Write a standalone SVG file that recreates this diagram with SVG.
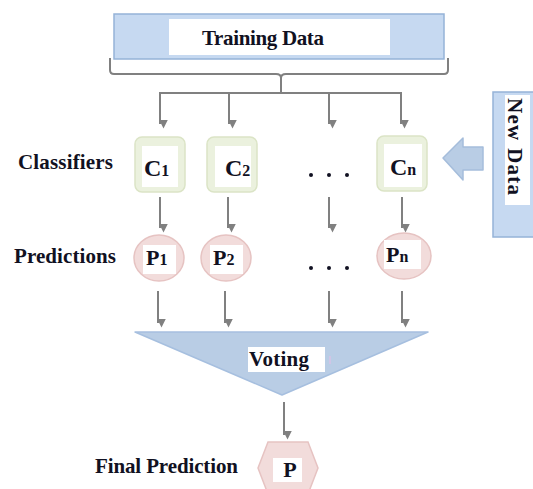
<svg xmlns="http://www.w3.org/2000/svg" width="533" height="489" viewBox="0 0 533 489">
<defs>
<style>
.t{font-family:"Liberation Serif","Times New Roman",serif;font-weight:bold;fill:#111122;font-size:21px}
.blue{fill:#c6d9f1;stroke:#95b3d7;stroke-width:1.5}
.cbox{fill:#ebf1de;stroke:#dbe4c6;stroke-width:1.5}
.pc{fill:#f2dcdb;stroke:#e6c3c2;stroke-width:1.5}
.w{fill:#ffffff}
.con{fill:none;stroke:#808080;stroke-width:2}
.ar{fill:none;stroke:#808080;stroke-width:2;marker-end:url(#ah)}
.big{font-size:24px}
.sub{font-size:16px}
</style>
<marker id="ah" markerWidth="9" markerHeight="9" refX="4.5" refY="8" orient="auto-start-reverse" markerUnits="userSpaceOnUse" viewBox="0 0 9 9">
<path d="M0,0 L9,0 L4.5,9 Z" fill="#808080" transform="rotate(-90 4.5 4.5)"/>
</marker>
</defs>
<rect width="533" height="489" fill="#ffffff"/>

<g id="training-data">
<rect class="blue" x="114" y="14" width="330" height="45"/>
<rect class="w" x="169" y="19" width="221" height="36"/>
<text class="t" x="263" y="45" text-anchor="middle" textLength="122">Training Data</text>
</g>

<g id="new-data">
<rect class="blue" x="493" y="92" width="50" height="145"/>
<rect class="w" x="505" y="95" width="25" height="110"/>
<text class="t" transform="translate(508,98) rotate(90)" x="0" y="0" textLength="97">New Data</text>
</g>

<g id="new-data-arrow">
<polygon points="443,158 463,138 463,147 483,147 483,170 463,170 463,180" fill="#b9cde5" stroke="#a5bddb" stroke-width="1.5" stroke-linejoin="round"/>
</g>

<g id="labels">
<text class="t" x="18" y="169" textLength="95">Classifiers</text>
<text class="t" x="14" y="263" textLength="102">Predictions</text>
<text class="t" x="95" y="473" textLength="143">Final Prediction</text>
</g>

<g id="connectors">
<path class="con" d="M110,58 V70 Q110,74 114,74 H276 Q281,74 281,78 Q281,74 286,74 H444 Q448,74 448,70 V58"/>
<path class="con" d="M281,76 V93 M159,93 H402"/>
<path class="ar" d="M160,92 V124"/>
<path class="ar" d="M229,93 V124"/>
<path class="ar" d="M329,93 V124"/>
<path class="ar" d="M401,92 V124"/>
<path class="ar" d="M160,197 V228"/>
<path class="ar" d="M228,197 V228"/>
<path class="ar" d="M329,197 V228"/>
<path class="ar" d="M402,197 V228"/>
<path class="ar" d="M158,291 V323"/>
<path class="ar" d="M225,291 V323"/>
<path class="ar" d="M329,291 V323"/>
<path class="ar" d="M402,291 V323"/>
<path class="ar" d="M284,402 V435"/>
</g>

<g id="c1">
<rect class="cbox" x="135" y="137" width="50" height="55" rx="7"/>
<rect class="w" x="142" y="146" width="36" height="41"/>
<text class="t" x="144" y="176"><tspan class="big">C</tspan><tspan class="sub">1</tspan></text>
</g>
<g id="c2">
<rect class="cbox" x="207" y="137" width="50" height="55" rx="7"/>
<rect class="w" x="215" y="146" width="36" height="41"/>
<text class="t" x="225" y="176"><tspan class="big">C</tspan><tspan class="sub">2</tspan></text>
</g>
<g id="c-dots">
<circle cx="311" cy="175" r="2" fill="#111122"/>
<circle cx="329" cy="175" r="2" fill="#111122"/>
<circle cx="347" cy="175" r="2" fill="#111122"/>
</g>
<g id="cn">
<rect class="cbox" x="377" y="136" width="50" height="55" rx="7"/>
<rect class="w" x="384" y="144" width="38" height="43"/>
<text class="t" x="390" y="175"><tspan class="big">C</tspan><tspan class="sub">n</tspan></text>
</g>

<g id="p1">
<ellipse class="pc" cx="159" cy="258" rx="25" ry="23"/>
<rect class="w" x="143" y="245" width="33" height="29"/>
<text class="t" x="146" y="265"><tspan style="font-size:22px">P</tspan><tspan class="sub">1</tspan></text>
</g>
<g id="p2">
<ellipse class="pc" cx="226" cy="258" rx="25" ry="23"/>
<rect class="w" x="210" y="245" width="33" height="29"/>
<text class="t" x="213" y="265"><tspan style="font-size:22px">P</tspan><tspan class="sub">2</tspan></text>
</g>
<g id="p-dots">
<circle cx="311" cy="268" r="2" fill="#111122"/>
<circle cx="329" cy="268" r="2" fill="#111122"/>
<circle cx="347" cy="268" r="2" fill="#111122"/>
</g>
<g id="pn">
<ellipse class="pc" cx="404" cy="256" rx="27" ry="23"/>
<rect class="w" x="384" y="240" width="37" height="29"/>
<text class="t" x="386" y="262"><tspan style="font-size:22px">P</tspan><tspan class="sub">n</tspan></text>
</g>

<g id="voting">
<polygon points="135,332 428,332 282,395" fill="#b9cde5" stroke="#a6bfdf" stroke-width="1.5" stroke-linejoin="round"/>
<rect class="w" x="248" y="347" width="77" height="25"/>
<text class="t" x="249" y="366" textLength="60">Voting</text>
<line x1="330" y1="356" x2="330" y2="364" stroke="#d9c2e6" stroke-width="1.5"/>
</g>

<g id="final-p">
<polygon class="pc" points="258,468 268,442 308,442 318,468 308,494 268,494"/>
<rect class="w" x="273" y="458" width="29" height="24"/>
<text class="t" x="290" y="477" text-anchor="middle" style="font-size:22px">P</text>
</g>
</svg>
